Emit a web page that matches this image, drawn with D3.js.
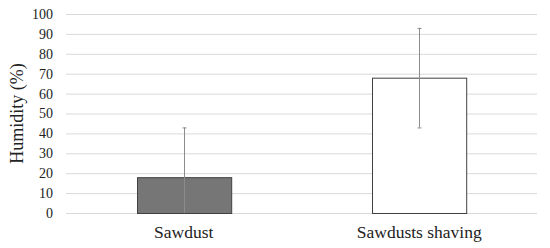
<!DOCTYPE html>
<html>
<head>
<meta charset="utf-8">
<script src="https://cdn.jsdelivr.net/npm/d3@7"></script>
<style>
body{margin:0;background:#fff;}
svg, svg text{font-family:"Liberation Serif","DejaVu Serif","Times New Roman",serif !important;}
</style>
</head>
<body>
<svg></svg>
<script>
var categories=["Sawdust","Sawdusts shaving"];
var values=[18,68];
var errLow=[0,43];
var errHigh=[43,93];
var barFills=["#767676","#ffffff"];
var yTicks=[0,10,20,30,40,50,60,70,80,90,100];

var screen={width:550,height:248};
var margins={top:14,bottom:35,left:66,right:13};
var svg=d3.select("svg").attr("width",screen.width).attr("height",screen.height);

var boxWidth=screen.width-margins.left-margins.right;
var boxHeight=screen.height-margins.top-margins.bottom;

var xScale=d3.scaleBand().domain(categories).range([0,boxWidth]).paddingInner(0.6).paddingOuter(0.3);
var yScale=d3.scaleLinear().domain([0,100]).range([boxHeight,0]);

var plot=svg.append("g").attr("transform","translate("+margins.left+","+margins.top+")");

// gridlines
plot.selectAll("line.grid").data(yTicks).enter().append("line")
    .attr("class","grid")
    .attr("x1",0).attr("x2",boxWidth)
    .attr("y1",function(d){return yScale(d)+0.5})
    .attr("y2",function(d){return yScale(d)+0.5})
    .attr("stroke","#d9d9d9").attr("stroke-width",1);

// y axis labels
var yAxis=d3.axisLeft(yScale).tickValues(yTicks).tickSize(0).tickPadding(13);
var ya=plot.append("g").call(yAxis);
ya.attr("font-family",null);
ya.select(".domain").remove();
ya.selectAll("text").attr("font-size",14).attr("fill","#222");

// bars
plot.selectAll("rect.bar").data(values).enter().append("rect")
    .attr("class","bar")
    .attr("x",function(d,i){return Math.round(xScale(categories[i]))+0.5})
    .attr("width",xScale.bandwidth())
    .attr("y",function(d){return yScale(d)+0.5})
    .attr("height",function(d){return yScale(0)-yScale(d)})
    .attr("fill",function(d,i){return barFills[i]})
    .attr("stroke","#404040").attr("stroke-width",1);

// error bars
var cx=function(i){return Math.round(xScale(categories[i])+xScale.bandwidth()/2)+0.5};
plot.selectAll("line.err").data(values).enter().append("line")
    .attr("class","err")
    .attr("x1",function(d,i){return cx(i)}).attr("x2",function(d,i){return cx(i)})
    .attr("y1",function(d,i){return yScale(errLow[i])})
    .attr("y2",function(d,i){return yScale(errHigh[i])})
    .attr("stroke","#8c8c8c").attr("stroke-width",1);
plot.selectAll("line.capHi").data(values).enter().append("line")
    .attr("x1",function(d,i){return cx(i)-2}).attr("x2",function(d,i){return cx(i)+2})
    .attr("y1",function(d,i){return yScale(errHigh[i])+0.5})
    .attr("y2",function(d,i){return yScale(errHigh[i])+0.5})
    .attr("stroke","#8c8c8c");
plot.selectAll("line.capLo").data(values).enter().append("line")
    .attr("x1",function(d,i){return cx(i)-2}).attr("x2",function(d,i){return cx(i)+2})
    .attr("y1",function(d,i){return yScale(errLow[i])+0.5})
    .attr("y2",function(d,i){return yScale(errLow[i])+0.5})
    .attr("stroke",function(d,i){return errLow[i]>0?"#8c8c8c":"none"});

// x axis labels
var xAxis=d3.axisBottom(xScale).tickSize(0).tickPadding(13);
var xa=plot.append("g").attr("transform","translate(0,"+boxHeight+")").call(xAxis);
xa.attr("font-family",null);
xa.select(".domain").remove();
xa.selectAll("text").attr("font-size",17.5).attr("fill","#222");

// y title
svg.append("text")
   .attr("transform","translate(23,"+(margins.top+boxHeight/2)+") rotate(-90)")
   .attr("text-anchor","middle")
   .attr("font-size",18).attr("fill","#222")
   .text("Humidity (%)");
</script>
</body>
</html>
